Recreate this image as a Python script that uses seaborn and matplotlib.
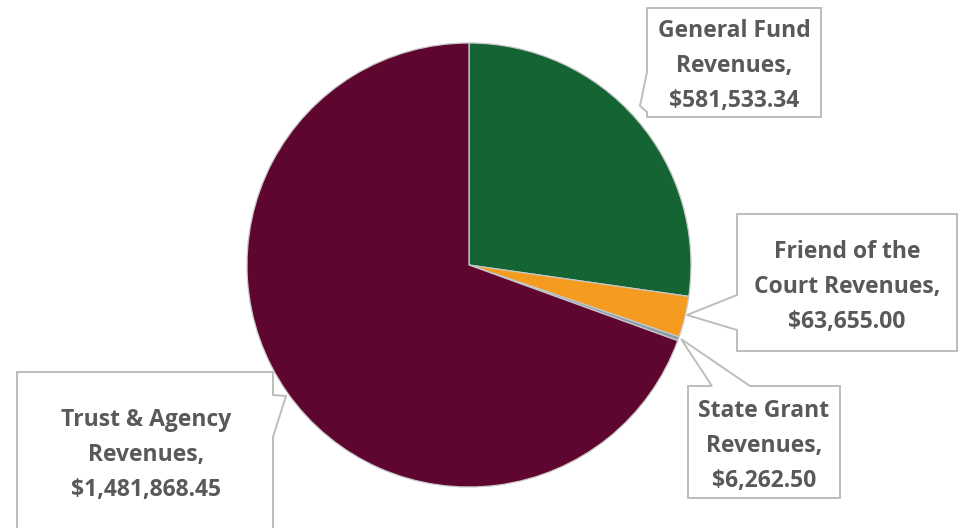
import matplotlib
matplotlib.use("Agg")
import matplotlib.pyplot as plt
import seaborn as sns
from matplotlib.patches import Polygon

sns.set_theme(style="white")
plt.rcParams['font.family'] = ['Open Sans', 'DejaVu Sans']

categories = ["General Fund Revenues", "Friend of the Court Revenues",
              "State Grant Revenues", "Trust & Agency Revenues"]
values = [581533.34, 63655.00, 6262.50, 1481868.45]
value_labels = ["$581,533.34", "$63,655.00", "$6,262.50", "$1,481,868.45"]
label_lines = [["General Fund", "Revenues,"],
               ["Friend of the", "Court Revenues,"],
               ["State Grant", "Revenues,"],
               ["Trust & Agency", "Revenues,"]]
colors = ["#156534", "#F49B20", "#8C9BA8", "#5F0630"]

W, H = 964, 528
fig = plt.figure(figsize=(W / 100, H / 100), dpi=100)
fig.patch.set_facecolor("white")

# pie axes: center (469, 265) px from top, radius 222 px
cx, cy, r = 469, 265, 222
ax = fig.add_axes([(cx - r) / W, (H - cy - r) / H, 2 * r / W, 2 * r / H])
ax.pie(values, colors=colors, startangle=90, counterclock=False,
       wedgeprops=dict(edgecolor="#c8c8c8", linewidth=0.9))
ax.set_xlim(-1, 1)
ax.set_ylim(-1, 1)
ax.set_aspect("equal")
ax.patch.set_alpha(0)

# overlay for callouts, pixel coordinates (y down)
ov = fig.add_axes([0, 0, 1, 1], zorder=5)
ov.set_xlim(0, W)
ov.set_ylim(H, 0)
ov.axis("off")
ov.patch.set_alpha(0)

callouts = [
    ([(647, 8), (821, 8), (821, 117), (647, 117), (647, 112), (640, 106), (647, 72)], (734, 66)),
    ([(737, 214), (957, 214), (957, 351), (737, 351), (737, 330), (687, 315), (737, 295)], (847, 287)),
    ([(688, 386), (712, 386), (681, 339), (750, 386), (840, 386), (840, 498), (688, 498)], (764, 446)),
    ([(17, 372), (273, 372), (273, 395), (286, 396), (273, 437), (273, 545), (17, 545)], (146, 455)),
]

for (poly, center), lines, val in zip(callouts, label_lines, value_labels):
    ov.add_patch(Polygon(poly, closed=True, facecolor="white",
                         edgecolor="#bdbdbd", linewidth=1.4, joinstyle="miter"))
    ov.text(center[0], center[1], "\n".join(lines + [val]), ha="center", va="center",
            fontsize=16.5, fontweight="bold", color="#595959", linespacing=1.63)

fig.savefig("out.png", dpi=100, facecolor="white")
